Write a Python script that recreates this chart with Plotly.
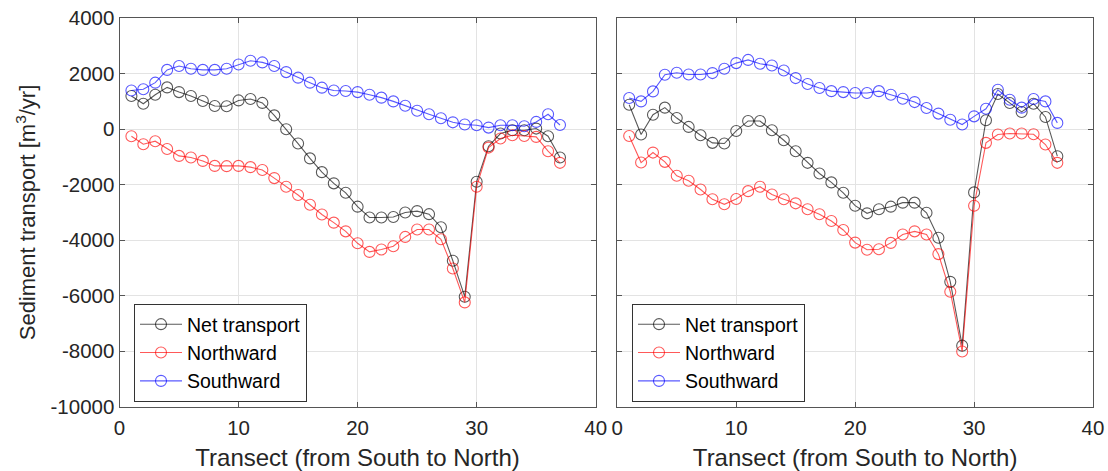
import plotly.graph_objects as go

transect = list(range(1, 38))

left_net = [1200, 920, 1245, 1510, 1340, 1200, 1020, 840, 830, 1040,
            1090, 950, 500, 0, -515, -1050, -1545, -1950, -2290, -2790,
            -3180, -3180, -3160, -3000, -2950, -3060, -3530, -4740, -6035, -1890,
            -610, -155, -35, -35, 25, -250, -1020]
left_north = [-250, -540, -430, -710, -960, -1020, -1140, -1320, -1330, -1320,
              -1365, -1470, -1760, -2070, -2370, -2720, -3070, -3365, -3680, -4110,
              -4420, -4335, -4215, -3880, -3615, -3615, -3965, -5020, -6240, -2070,
              -660, -335, -215, -240, -275, -790, -1210]
left_south = [1400, 1440, 1680, 2140, 2280, 2180, 2140, 2140, 2180, 2335,
              2470, 2410, 2280, 2060, 1860, 1680, 1500, 1400, 1380, 1340,
              1245, 1140, 1005, 850, 670, 540, 395, 250, 170, 145,
              60, 145, 145, 110, 265, 540, 155]

right_net = [885, -190, 525, 780, 405, 85, -215, -490, -515, -60,
             300, 300, -35, -395, -790, -1210, -1595, -1915, -2290, -2755,
             -3030, -2885, -2790, -2645, -2645, -3010, -3910, -5500, -7800, -2275,
             325, 1270, 945, 625, 920, 445, -970]
right_north = [-240, -1200, -840, -1175, -1675, -1855, -2170, -2525, -2705, -2515,
               -2230, -2070, -2350, -2525, -2670, -2885, -3065, -3305, -3630, -4085,
               -4340, -4325, -4095, -3795, -3680, -3795, -4500, -5855, -8010, -2755,
               -490, -190, -155, -155, -180, -550, -1210]
right_south = [1125, 1005, 1365, 1965, 2035, 1975, 1975, 2025, 2180, 2385,
               2500, 2360, 2300, 2120, 1845, 1630, 1485, 1375, 1340, 1305,
               1305, 1375, 1245, 1100, 980, 765, 565, 345, 170, 465,
               740, 1425, 1065, 780, 1090, 1005, 230]

series_names = ["Net transport", "Northward", "Southward"]
series_colors = ["rgba(0,0,0,0.65)", "rgba(255,0,0,0.65)", "rgba(0,0,255,0.65)"]

x_ticks = [0, 10, 20, 30, 40]
y_ticks = [-10000, -8000, -6000, -4000, -2000, 0, 2000, 4000]
y_tick_labels = ["-10000", "-8000", "-6000", "-4000", "-2000", "0", "2000", "4000"]

FONT = "Liberation Sans, Arial, sans-serif"
TXT = "#262626"

W, H = 1108, 471

def px_x(v):
    return v / W

def px_y(v):
    return 1 - v / H

fig = go.Figure()

panels = [
    ("x", "y", "legend", [left_net, left_north, left_south]),
    ("x2", "y2", "legend2", [right_net, right_north, right_south]),
]
for xa, ya, leg, data in panels:
    for name, color, vals in zip(series_names, series_colors, data):
        fig.add_trace(go.Scatter(
            x=transect, y=vals, name=name, mode="lines+markers",
            xaxis=xa, yaxis=ya, legend=leg,
            line=dict(color=color, width=1.1),
            marker=dict(symbol="circle-open", size=11, color=color,
                        line=dict(width=1.1, color=color)),
        ))

ydom = [px_y(406.7), px_y(18.3)]
axis_common = dict(
    showgrid=True, gridcolor="#e3e3e3", gridwidth=1,
    showline=True, linecolor="#555555", linewidth=1, mirror="ticks",
    ticks="inside", ticklen=5, tickcolor="#555555",
    tickfont=dict(family=FONT, size=20.5, color=TXT),
    zeroline=False, automargin=False, ticklabeloverflow="allow",
)
xtitle = dict(text="Transect (from South to North)",
              font=dict(family=FONT, size=24, color=TXT), standoff=11)

legend_common = dict(
    xanchor="left", yanchor="top", y=px_y(304),
    bgcolor="white", bordercolor="#333333", borderwidth=1,
    font=dict(family=FONT, size=19.5, color="black"),
    tracegroupgap=0, itemwidth=42,
)

fig.update_layout(
    width=W, height=H,
    margin=dict(l=0, r=0, t=0, b=0),
    paper_bgcolor="white", plot_bgcolor="white",
    font=dict(family=FONT, color=TXT),
    xaxis=dict(domain=[px_x(119.5), px_x(595.7)], range=[0, 40],
               tickvals=x_ticks, anchor="y", title=xtitle,
               ticklabelstandoff=3, **axis_common),
    yaxis=dict(domain=ydom, range=[-10000, 4000], tickvals=y_ticks,
               ticktext=y_tick_labels, anchor="x",
               title=dict(text="Sediment transport [m<sup>3</sup>/yr]",
                          font=dict(family=FONT, size=22, color=TXT),
                          standoff=8),
               **axis_common),
    xaxis2=dict(domain=[px_x(617.3), px_x(1093)], range=[0, 40],
                tickvals=x_ticks, anchor="y2", title=xtitle,
                ticklabelstandoff=3, **axis_common),
    yaxis2=dict(domain=ydom, range=[-10000, 4000], tickvals=y_ticks,
                anchor="x2", showticklabels=False, **axis_common),
    legend=dict(x=px_x(134), **legend_common),
    legend2=dict(x=px_x(632), **legend_common),
    showlegend=True,
)

fig.write_html(
    "out.html",
    config={"displayModeBar": False},
    post_script="document.body.style.margin='0';document.body.style.overflow='hidden';",
)
